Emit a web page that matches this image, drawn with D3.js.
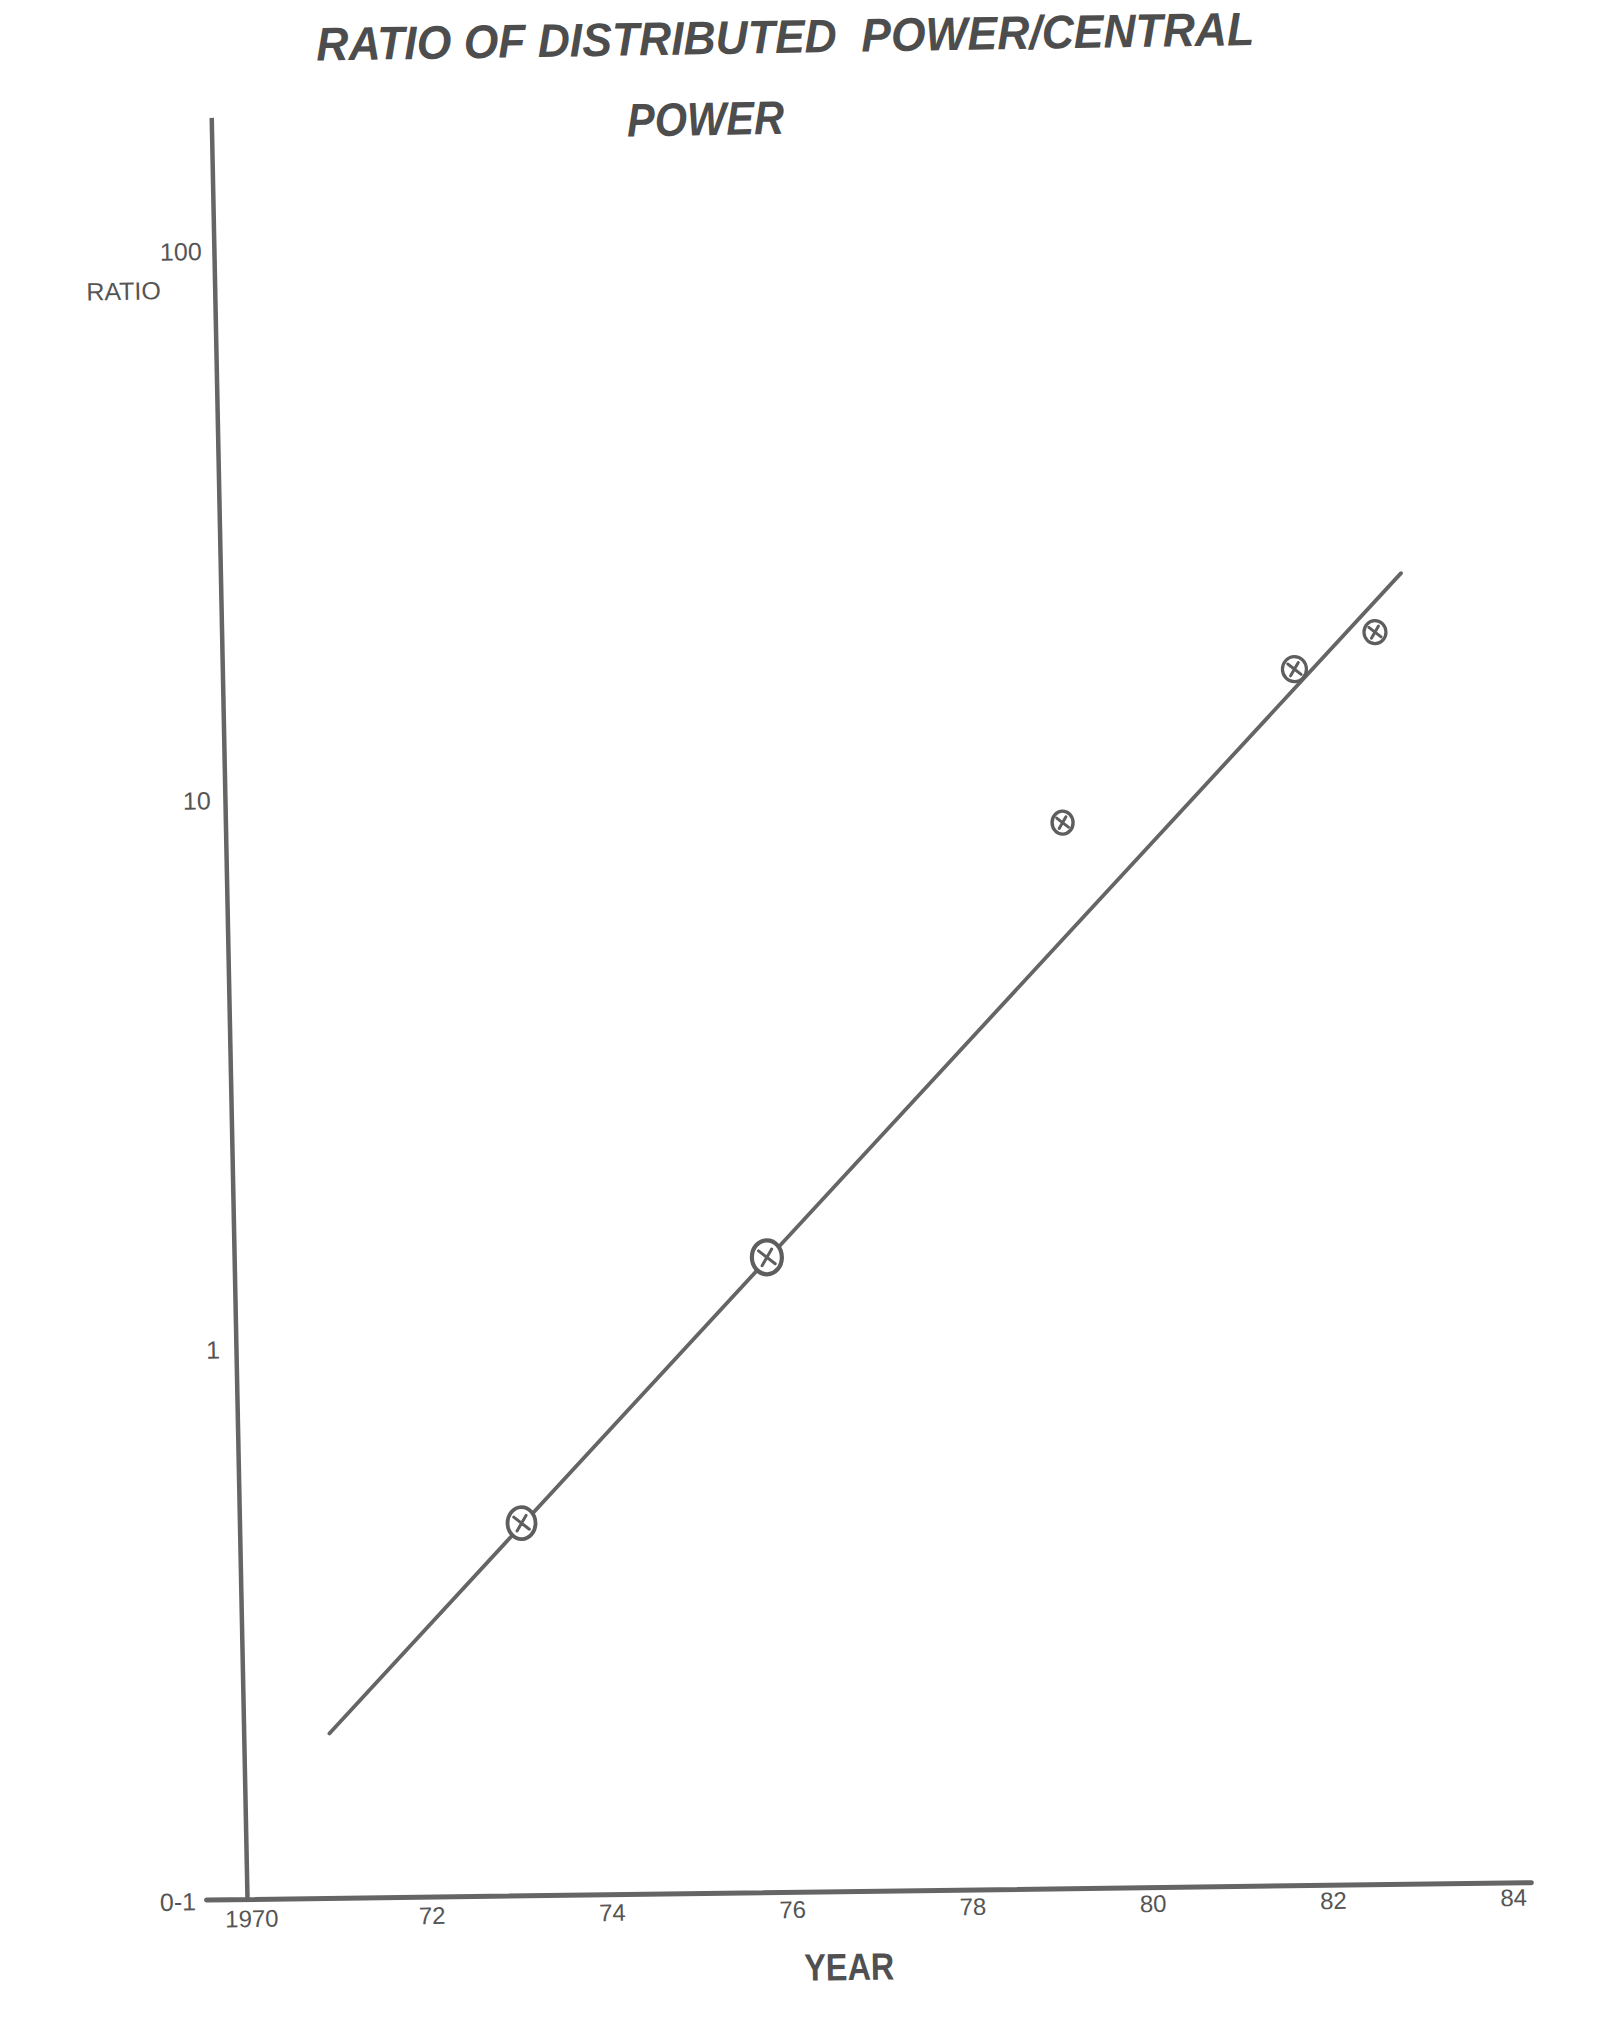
<!DOCTYPE html>
<html>
<head>
<meta charset="utf-8">
<script src="https://cdn.jsdelivr.net/npm/d3@7"></script>
<style>
  html, body { margin: 0; padding: 0; background: #ffffff; }
  svg { display: block; }
  text { font-family: "Liberation Sans", Arial, sans-serif; }
</style>
</head>
<body>
<div id="chart"></div>
<script>
// ---------- data ----------
const titleLines = ["RATIO OF DISTRIBUTED  POWER/CENTRAL", "POWER"];
const xAxisTitle = "YEAR";
const yAxisTitle = "RATIO";
const xTickValues = [1970, 1972, 1974, 1976, 1978, 1980, 1982, 1984];
const xTickLabels = ["1970", "72", "74", "76", "78", "80", "82", "84"];
const yTickValues = [0.1, 1, 10, 100];
const yTickLabels = ["0-1", "1", "10", "100"];
const pointYears  = [1973.07, 1975.84, 1979.2, 1981.8, 1982.7];
const pointRatios = [0.474, 1.42, 8.6, 16.1, 18.7];
const trendYears  = [1970.9, 1983.0];
const trendRatios = [0.199, 23.9];

// ---------- styles (not data) ----------
const markerRx = [14, 15, 10.5, 12, 11];
const markerRy = [16, 17, 11.5, 12.5, 11.5];
const markerStroke = [3.8, 4.2, 3.4, 3.2, 3.2];
const ink = "#656565";
const textInk = "#555555";

const W = 1611, H = 2018;
const ox = 247, oy = 1899;          // axes origin
const tilt = -0.95;                 // scanned page is slightly rotated

const svg = d3.select("#chart").append("svg")
  .attr("width", W).attr("height", H)
  .attr("viewBox", `0 0 ${W} ${H}`);
svg.append("rect").attr("width", W).attr("height", H).attr("fill", "#fff");

const g = svg.append("g").attr("transform", `rotate(${tilt},${ox},${oy})`);

// scales
const x = d3.scaleLinear().domain([1970, 1984]).range([251, 1513]);
const y = d3.scaleLog().domain([0.1, 100]).range([oy, 251]);

// axis scales extended so that the drawn axis lines run past the labelled range
const xAxisScale = x.copy().domain([x.invert(206), x.invert(1531)]).range([206, 1531]);
const yAxisScale = y.copy().domain([0.1, y.invert(117)]).range([oy, 117]);

// X axis
const xAxis = d3.axisBottom(xAxisScale)
  .tickValues(xTickValues)
  .tickFormat((d, i) => xTickLabels[i])
  .tickSize(0).tickPadding(11);
const gx = g.append("g").attr("transform", `translate(0,${oy})`).call(xAxis);
gx.select(".domain").attr("stroke", ink).attr("stroke-width", 5).attr("stroke-linecap", "round")
  .attr("transform", `rotate(0.2,${ox},0)`);
gx.selectAll("text").attr("fill", textInk).attr("font-size", 24)
  .attr("font-family", "'Liberation Sans', Arial, sans-serif");

// Y axis
const yAxis = d3.axisLeft(yAxisScale)
  .tickValues(yTickValues)
  .tickFormat((d, i) => yTickLabels[i])
  .tickSize(0).tickPadding(18);
const gy = g.append("g").attr("transform", `translate(${ox},0)`).call(yAxis);
gy.select(".domain").attr("stroke", ink).attr("stroke-width", 4.5)
  .attr("transform", `rotate(-0.2,0,${oy})`);
gy.selectAll("text").attr("fill", textInk).attr("font-size", 25)
  .attr("font-family", "'Liberation Sans', Arial, sans-serif");
gy.selectAll(".tick").filter(d => d === 0.1).select("text").attr("x", -51).attr("dy", "0.4em");

// axis titles
g.append("text").attr("x", 113).attr("y", 298)
  .attr("fill", textInk).attr("font-size", 25).text(yAxisTitle);

g.append("text").attr("x", 848).attr("y", 1990)
  .attr("text-anchor", "middle")
  .attr("fill", "#505050")
  .attr("font-family", "'Liberation Sans Narrow', 'Liberation Sans', Arial, sans-serif")
  .attr("font-weight", "bold").attr("font-size", 38)
  .attr("textLength", 90).attr("lengthAdjust", "spacingAndGlyphs")
  .text(xAxisTitle);

// title
const titleX = [816, 735], titleY = [62, 143], titleLen = [938, 157];
titleLines.forEach((t, i) => {
  g.append("text")
    .attr("x", titleX[i]).attr("y", titleY[i])
    .attr("text-anchor", "middle")
    .attr("fill", "#4d4d4d")
    .attr("font-family", "'Liberation Sans Narrow', 'Liberation Sans', Arial, sans-serif")
    .attr("font-weight", "bold").attr("font-style", "italic")
    .attr("font-size", 47)
    .attr("textLength", titleLen[i]).attr("lengthAdjust", "spacingAndGlyphs")
    .style("white-space", "pre")
    .text(t);
});

// trend line
const trend = trendYears.map((yr, i) => [yr, trendRatios[i]]);
g.append("path")
  .datum(trend)
  .attr("d", d3.line().x(d => x(d[0])).y(d => y(d[1])))
  .attr("fill", "none").attr("stroke", ink).attr("stroke-width", 3.8)
  .attr("stroke-linecap", "round");

// markers: circled crosses
const pts = pointYears.map((yr, i) => ({ yr, r: pointRatios[i], i }));
const mk = g.append("g").selectAll("g").data(pts).join("g")
  .attr("transform", d => `translate(${x(d.yr)},${y(d.r)})`);
mk.append("ellipse")
  .attr("rx", d => markerRx[d.i]).attr("ry", d => markerRy[d.i])
  .attr("fill", "#fff").attr("stroke", "#5e5e5e")
  .attr("stroke-width", d => markerStroke[d.i]);
mk.append("path")
  .attr("d", d => {
    const a = markerRx[d.i] * 0.55;
    return `M${-a},${-a * 0.8}L${a},${a * 0.8}M${-a * 0.6},${a}L${a * 0.6},${-a}`;
  })
  .attr("stroke", "#5e5e5e").attr("stroke-width", 3).attr("fill", "none")
  .attr("stroke-linecap", "round");
</script>
</body>
</html>
